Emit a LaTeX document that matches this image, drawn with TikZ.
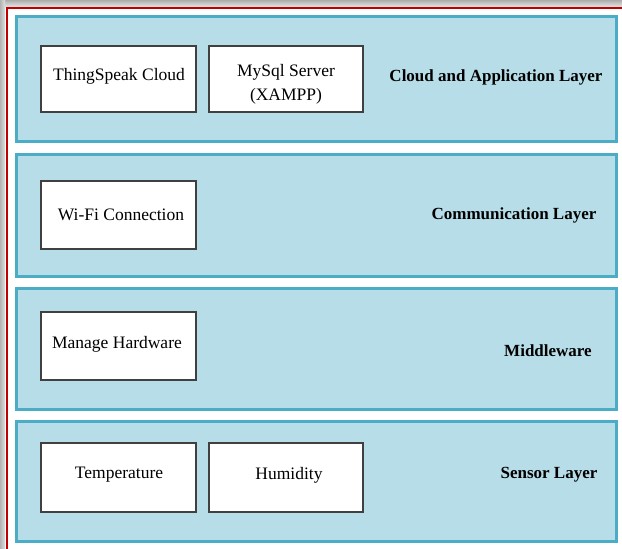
\documentclass[tikz,border=0pt]{standalone}
\usepackage{fontspec}
\setmainfont{Liberation Serif}
\definecolor{layerfill}{HTML}{B7DDE8}
\definecolor{layerdraw}{HTML}{4BACC6}
\definecolor{boxdraw}{HTML}{404040}
\definecolor{framered}{HTML}{C00000}
\begin{document}
\begin{tikzpicture}[x=1pt,y=-1pt,
  layerbox/.style={draw=layerdraw,fill=layerfill,line width=3pt},
  itembox/.style={draw=boxdraw,fill=white,line width=1.2pt},
  itemtext/.style={font=\fontsize{17.5}{24}\selectfont,align=center,inner sep=0pt},
  layertext/.style={font=\bfseries\fontsize{17}{20}\selectfont,inner sep=0pt}]
\useasboundingbox (0,0) rectangle (622,549);
\fill[white] (0,0) rectangle (622,549);
\shade[top color=gray!65,bottom color=gray!20] (0,0) rectangle (622,7);
\shade[left color=gray!60,right color=gray!25] (0,0) rectangle (5,549);
\draw[framered,line width=2pt] (6.5,549) -- (6.5,8) -- (622,8);
% layers
\draw[layerbox] (16.5,16.5) rectangle (616.5,141.5);
\draw[layerbox] (16.5,154) rectangle (616.5,276);
\draw[layerbox] (16.5,288) rectangle (616.5,409.5);
\draw[layerbox] (16.5,421) rectangle (616.5,541.5);
% items
\draw[itembox] (41,46) rectangle (196,112);
\draw[itembox] (209,46) rectangle (363,112);
\draw[itembox] (41,181) rectangle (196,249);
\draw[itembox] (41,312) rectangle (196,380);
\draw[itembox] (41,443) rectangle (196,512);
\draw[itembox] (209,443) rectangle (363,512);
\node[itemtext] (ts) at (119,76) {ThingSpeak Cloud};
\node[itemtext] (my) at (286,84) {MySql Server\\(XAMPP)};
\node[itemtext] (wf) at (121,215) {Wi-Fi Connection};
\node[itemtext] (mh) at (117,344) {Manage Hardware};
\node[itemtext] (te) at (119,475) {Temperature};
\node[itemtext] (hu) at (289,475) {Humidity};
\node[layertext] (l1) at (496,77) {Cloud and Application Layer};
\node[layertext] (l2) at (514,215) {Communication Layer};
\node[layertext] (l3) at (548,351) {Middleware};
\node[layertext] (l4) at (549,475) {Sensor Layer};
\end{tikzpicture}
\end{document}
